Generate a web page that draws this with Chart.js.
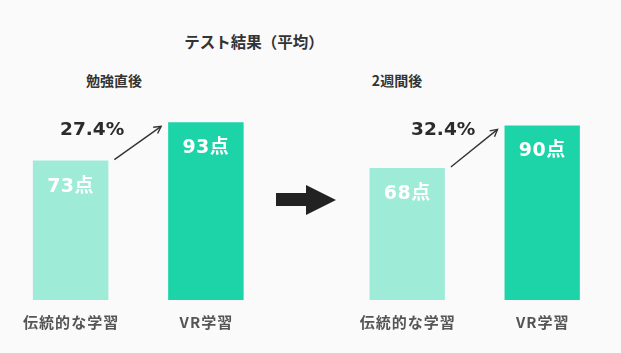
<!DOCTYPE html>
<html><head><meta charset="utf-8">
<script src="https://cdn.jsdelivr.net/npm/chart.js@4"></script>
<style>
html,body{margin:0;padding:0;background:#fafafa;width:621px;height:353px;overflow:hidden;}
#wrap{position:relative;width:621px;height:353px;}
.c{position:absolute;top:0;height:353px;}
#cl{left:0;width:310px;}
#cr{left:310px;width:311px;}
.t{position:absolute;font-family:'Noto Sans CJK JP','Noto Sans',sans-serif;font-weight:bold;color:#333;white-space:nowrap;transform:translate(-50%,-50%);line-height:1;}
#shaft{position:absolute;left:276px;top:193px;width:31px;height:13px;background:#222;}
#head{position:absolute;left:306px;top:185px;width:0;height:0;border-top:15px solid transparent;border-bottom:15px solid transparent;border-left:30px solid #222;}
</style></head>
<body><div id="wrap">
<div class="t" id="title" style="left:254px;top:42px;font-size:15.5px;"></div>
<div class="t" id="p0" style="left:114px;top:80px;font-size:14px;"></div>
<div class="t" id="p1" style="left:397px;top:80px;font-size:14px;"></div>
<div id="shaft"></div><div id="head"></div>
<div class="c" id="cl"><canvas id="left" width="310" height="353"></canvas></div>
<div class="c" id="cr"><canvas id="right" width="311" height="353"></canvas></div>
</div>
<script>
const chartTitle = 'テスト結果（平均）';
const panelTitles = ['勉強直後', '2週間後'];
const categories = ['伝統的な学習', 'VR学習'];
const scoresAfterStudy = [73, 93];
const scoresTwoWeeks = [68, 90];
const improvements = ['27.4%', '32.4%'];
const valueSuffix = '点';

document.getElementById('title').textContent = chartTitle;
document.getElementById('p0').textContent = panelTitles[0];
document.getElementById('p1').textContent = panelTitles[1];

const annot = {
  id: 'annot',
  afterDatasetsDraw(chart, args, opts) {
    const ctx = chart.ctx;
    const meta = chart.getDatasetMeta(0);
    const ds = chart.data.datasets[0];
    const b0 = meta.data[0], b1 = meta.data[1];
    ctx.save();
    ctx.textAlign = 'center';
    ctx.textBaseline = 'middle';
    // value labels inside bars
    ctx.font = "bold 19px 'DejaVu Sans','Noto Sans CJK JP'";
    ctx.fillStyle = '#ffffff';
    try { ctx.letterSpacing = '0.5px'; } catch(e) {}
    meta.data.forEach((bar, i) => {
      ctx.fillText(ds.data[i] + valueSuffix, bar.x, bar.y + 26);
    });
    // category labels
    ctx.font = "bold 15px 'Noto Sans CJK JP'";
    ctx.fillStyle = '#555555';
    try { ctx.letterSpacing = '1px'; } catch(e) {}
    meta.data.forEach((bar, i) => {
      ctx.fillText(chart.data.labels[i], bar.x + 0.5, 322);
    });
    try { ctx.letterSpacing = '0px'; } catch(e) {}
    // thin arrow
    const x1 = b0.x + b0.width / 2 + 6, y1 = b0.y - 1;
    const x2 = b1.x - b1.width / 2 - 7, y2 = b1.y + 4;
    ctx.strokeStyle = '#333333';
    ctx.lineWidth = 1.4;
    ctx.beginPath(); ctx.moveTo(x1, y1); ctx.lineTo(x2, y2); ctx.stroke();
    const ang = Math.atan2(y2 - y1, x2 - x1);
    const hl = 8;
    ctx.beginPath();
    ctx.moveTo(x2 - hl * Math.cos(ang - 0.5), y2 - hl * Math.sin(ang - 0.5));
    ctx.lineTo(x2, y2);
    ctx.lineTo(x2 - hl * Math.cos(ang + 0.5), y2 - hl * Math.sin(ang + 0.5));
    ctx.stroke();
    // percent label
    ctx.font = "bold 18.5px 'DejaVu Sans'";
    ctx.fillStyle = '#2b2b2b';
    ctx.fillText(opts.label, b0.x + opts.dx, opts.y);
    ctx.restore();
  }
};

function makeChart(id, values, label, dx, pad) {
  return new Chart(document.getElementById(id), {
    type: 'bar',
    data: {
      labels: categories,
      datasets: [{
        data: values,
        backgroundColor: ['#9eebd8', '#1dd4a8'],
        borderWidth: 0,
        barPercentage: 1,
        categoryPercentage: 0.558
      }]
    },
    options: {
      responsive: false,
      devicePixelRatio: 1,
      animation: false,
      layout: { padding: pad },
      scales: {
        x: { display: false },
        y: { display: false, min: 0, max: 100 }
      },
      plugins: {
        legend: { display: false },
        tooltip: { enabled: false },
        title: { display: false },
        annot: { label: label, dx: dx, y: 130 }
      }
    },
    plugins: [annot]
  });
}

makeChart('left', scoresAfterStudy, improvements[0], 21.5, { left: 3, right: 36.5, top: 109, bottom: 53 });
makeChart('right', scoresTwoWeeks, improvements[1], 36, { left: 29.7, right: 11.3, top: 106, bottom: 53 });
</script>
</body></html>
